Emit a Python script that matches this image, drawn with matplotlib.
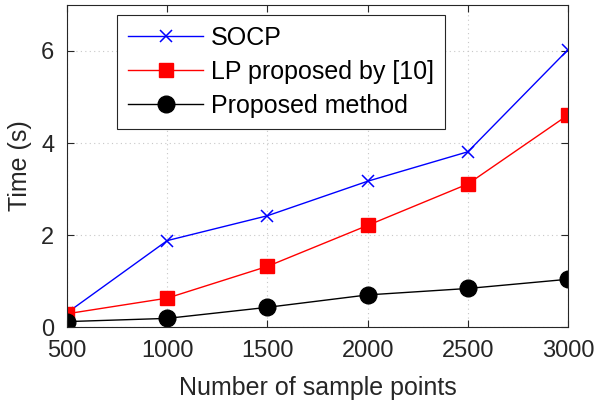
import numpy as np
import matplotlib.pyplot as plt

plt.rcParams['font.family'] = ['Liberation Sans', 'DejaVu Sans']

# Runtime of each solver versus the number of sample points
n_points = [500, 1000, 1500, 2000, 2500, 3000]
t_socp = [0.31, 1.88, 2.42, 3.17, 3.81, 6.03]
t_lp = [0.29, 0.63, 1.32, 2.21, 3.11, 4.61]
t_proposed = [0.12, 0.19, 0.43, 0.70, 0.84, 1.04]

fig = plt.figure(figsize=(5.98, 4.12), dpi=100)
ax = fig.add_axes([0.112, 0.206, 0.838, 0.782])

ax.plot(n_points, t_socp, color='#0000ff', lw=1, marker='x', ms=8.5, mew=1.1, label='SOCP')
ax.plot(n_points, t_lp, color='#ff0000', lw=1, marker='s', ms=9.5, label='LP proposed by [10]')
ax.plot(n_points, t_proposed, color='black', lw=1, marker='o', ms=12, label='Proposed method')

ax.set_xlim(500, 3000)
ax.set_ylim(0, 7)
ax.set_xticks([500, 1000, 1500, 2000, 2500, 3000])
ax.set_yticks([0, 2, 4, 6])

ax.grid(True, ls=(0, (1, 3)), lw=0.8, color='#c8c8c8')
ax.set_axisbelow(True)
for s in ax.spines.values():
    s.set_color('#262626')
    s.set_linewidth(0.8)
ax.tick_params(direction='in', top=True, right=True, length=5, labelsize=17,
               colors='#262626')
ax.tick_params(axis='x', pad=9)
ax.tick_params(axis='y', pad=9)

ax.set_xlabel('Number of sample points', fontsize=18, color='#262626', labelpad=10)
ax.set_ylabel('Time (s)', fontsize=18, color='#262626', labelpad=7)

leg = ax.legend(loc='upper left', bbox_to_anchor=(0.1, 0.969), fontsize=18,
                handlelength=3.0, fancybox=False, framealpha=1, edgecolor='#262626',
                borderpad=0.45, labelspacing=0.4, handletextpad=0.3, borderaxespad=0)
leg.get_frame().set_linewidth(0.8)

fig.savefig('out.png', dpi=100)
